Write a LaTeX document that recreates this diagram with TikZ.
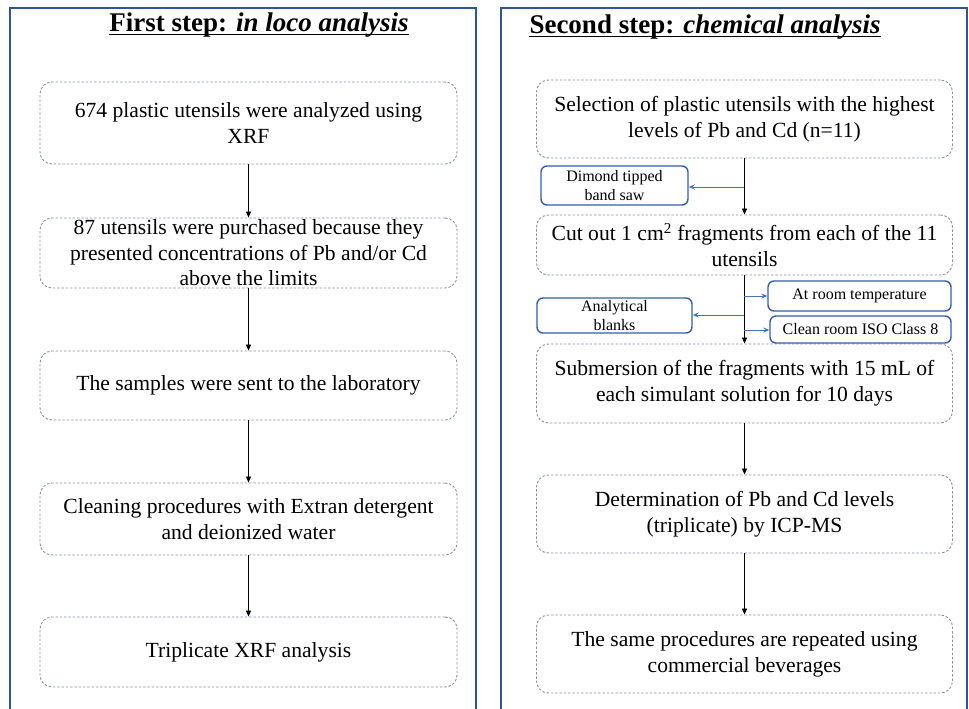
\documentclass[tikz,border=0pt]{standalone}
\usepackage{fontspec}
\setmainfont{Liberation Serif}
\usetikzlibrary{arrows.meta}
\definecolor{panelblue}{RGB}{47,85,151}
\definecolor{dashgray}{RGB}{135,145,165}
\definecolor{smallblue}{RGB}{52,92,170}
\definecolor{arrowblue}{RGB}{68,114,196}
\begin{document}
\begin{tikzpicture}[x=1pt,y=-1pt,
  panel/.style={draw=panelblue,line width=2.5pt},
  titletext/.style={inner sep=0pt,anchor=base,font=\fontsize{27}{30}\selectfont\bfseries},
  stepbox/.style={draw=dashgray,dash pattern=on 2.5pt off 1.8pt,line width=0.9pt,rounded corners=12pt,align=center,inner sep=0pt},
  leftbox/.style={stepbox,minimum width=417pt,font=\fontsize{21.6}{25.5}\selectfont},
  rightbox/.style={stepbox,minimum width=416pt,font=\fontsize{21.6}{26}\selectfont},
  smallbox/.style={draw=smallblue,line width=1.4pt,rounded corners=6pt,align=center,inner sep=0pt,font=\fontsize{16}{19}\selectfont},
  blackarrow/.style={draw=black,line width=0.8pt,-{Triangle[length=6pt,width=5pt]}},
  bluearrow/.style={draw=arrowblue,line width=1pt,-{Stealth[length=6pt,width=5pt]}},
  uline/.style={line width=1.6pt}
]
\useasboundingbox (0,0) rectangle (969,709);
% panels
\draw[panel] (10,715) -- (10,8) -- (476,8) -- (476,715);
\draw[panel] (501,715) -- (501,8) -- (967,8) -- (967,715);
% titles
\node[titletext] (T1) at (259,32) {First step: \textit{in loco analysis}};
\draw[uline] ([yshift=-2.5pt]T1.base west) -- ([yshift=-2.5pt]T1.base east);
\node[titletext] (T2) at (705,34) {Second step: \textit{chemical analysis}};
\draw[uline] ([yshift=-2.5pt]T2.base west) -- ([yshift=-2.5pt]T2.base east);
% left column
\node[leftbox,minimum height=82pt] (L1) at (248.5,123) {674 plastic utensils were analyzed using\\XRF};
\node[leftbox,minimum height=70pt] (L2) at (248.5,253) {87 utensils were purchased because they\\presented concentrations of Pb and/or Cd\\above the limits};
\node[leftbox,minimum height=69pt] (L3) at (248.5,385.5) {The samples were sent to the laboratory};
\node[leftbox,minimum height=72pt] (L4) at (248.5,519) {Cleaning procedures with Extran detergent\\and deionized water};
\node[leftbox,minimum height=70pt] (L5) at (248.5,652) {Triplicate XRF analysis};
\draw[blackarrow] (L1) -- (L2);
\draw[blackarrow] (L2) -- (L3);
\draw[blackarrow] (L3) -- (L4);
\draw[blackarrow] (L4) -- (L5);
% right column
\node[rightbox,minimum height=78pt] (R1) at (744.5,119) {Selection of plastic utensils with the highest\\levels of Pb and Cd (n=11)};
\node[rightbox,minimum height=60pt] (R2) at (744.5,245) {Cut out 1 cm\textsuperscript{2} fragments from each of the 11\\utensils};
\node[rightbox,minimum height=79pt] (R3) at (744.5,383.5) {Submersion of the fragments with 15 mL of\\each simulant solution for 10 days};
\node[rightbox,minimum height=78pt] (R4) at (744.5,514) {Determination of Pb and Cd levels\\(triplicate) by ICP-MS};
\node[rightbox,minimum height=78pt] (R5) at (744.5,654) {The same procedures are repeated using\\commercial beverages};
\draw[blackarrow] (R1) -- (R2);
\draw[blackarrow] (R2) -- (R3);
\draw[blackarrow] (R3) -- (R4);
\draw[blackarrow] (R4) -- (R5);
% side boxes
\node[smallbox,minimum width=147pt,minimum height=39pt] (S1) at (614.5,185.5) {Dimond tipped\\band saw};
\node[smallbox,minimum width=155pt,minimum height=35pt] (S2) at (614.5,315.5) {Analytical\\blanks};
\node[smallbox,minimum width=183pt,minimum height=30pt] (S3) at (859.5,296) {At room temperature};
\node[smallbox,minimum width=181pt,minimum height=27pt] (S4) at (860.5,329.5) {Clean room ISO Class 8};
\coordinate (J1) at (744,187);
\coordinate (J2) at (744,315);
\coordinate (J3) at (744,296);
\coordinate (J4) at (744,330);
\draw[bluearrow] (J1) -- (J1 -| S1.east);
\draw[bluearrow] (J2) -- (J2 -| S2.east);
\draw[bluearrow] (J3) -- (J3 -| S3.west);
\draw[bluearrow] (J4) -- (J4 -| S4.west);
\end{tikzpicture}
\end{document}
